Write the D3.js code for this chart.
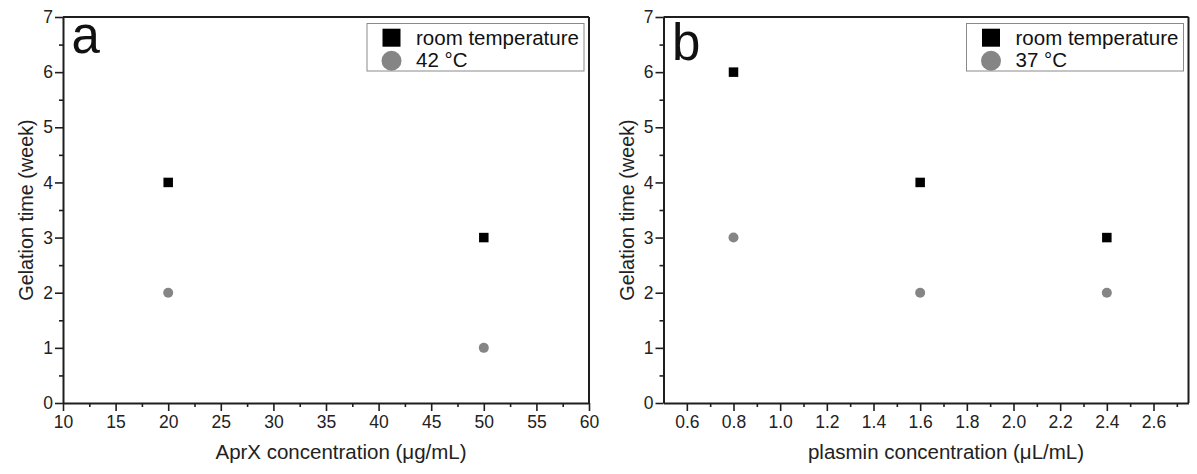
<!DOCTYPE html>
<html>
<head>
<meta charset="utf-8">
<script src="https://cdn.jsdelivr.net/npm/d3@7"></script>
<style>
  html, body { margin: 0; padding: 0; background: #fff; }
  svg { display: block; font-family: "Liberation Sans", Arial, sans-serif; }
</style>
</head>
<body>
<svg id="chart" width="1197" height="474"></svg>
<script>
// ---- Data ----
const aprxConc = [20, 50];
const aprxRoom = [4, 3];
const aprx42 = [2, 1];

const plasminConc = [0.8, 1.6, 2.4];
const plasminRoom = [6, 4, 3];
const plasmin37 = [3, 2, 2];

const xTicksA = [10, 15, 20, 25, 30, 35, 40, 45, 50, 55, 60];
const xMinorA = [12.5, 17.5, 22.5, 27.5, 32.5, 37.5, 42.5, 47.5, 52.5, 57.5];
const xTicksB = [0.6, 0.8, 1.0, 1.2, 1.4, 1.6, 1.8, 2.0, 2.2, 2.4, 2.6];
const xMinorB = [0.7, 0.9, 1.1, 1.3, 1.5, 1.7, 1.9, 2.1, 2.3, 2.5, 2.7];
const yTicks = [0, 1, 2, 3, 4, 5, 6, 7];
const yMinor = [0.5, 1.5, 2.5, 3.5, 4.5, 5.5, 6.5];

const yLabel = "Gelation time (week)";
const legendRoom = "room temperature";

const panels = [
  { letter: "a", letterY: 53, left: 63, right: 589, xDomain: [10, 60], xTicks: xTicksA, xMinor: xMinorA,
    fmt: d3.format("d"), x: aprxConc, room: aprxRoom, hot: aprx42, hotLabel: "42 \u00B0C",
    xTitle: "AprX concentration (\u03BCg/mL)", xTitleX: 341 },
  { letter: "b", letterY: 60, left: 663.5, right: 1188.5, xDomain: [0.5, 2.75], xTicks: xTicksB, xMinor: xMinorB,
    fmt: d3.format(".1f"), x: plasminConc, room: plasminRoom, hot: plasmin37, hotLabel: "37 \u00B0C",
    xTitle: "plasmin concentration (\u03BCL/mL)", xTitleX: 946 }
];

const plotTop = 17, plotBottom = 403;
const axisColor = "#1e1e1e";
const gray = "#858585";
const svg = d3.select("#chart");

panels.forEach(p => {
  const x = d3.scaleLinear().domain(p.xDomain).range([p.left, p.right]);
  const y = d3.scaleLinear().domain([0, 7]).range([plotBottom, plotTop]);
  const g = svg.append("g");

  g.append("line").attr("x1", p.left).attr("x2", p.right).attr("y1", y(7)).attr("y2", y(7))
    .attr("stroke", axisColor).attr("stroke-width", 2);
  g.append("line").attr("x1", p.right).attr("x2", p.right).attr("y1", y(7)).attr("y2", y(0))
    .attr("stroke", axisColor).attr("stroke-width", 2);

  const xa = g.append("g").attr("transform", `translate(0,${plotBottom})`)
    .call(d3.axisBottom(x).tickValues(p.xTicks).tickFormat(p.fmt).tickSize(8).tickPadding(5).tickSizeOuter(0));
  const xm = g.append("g").attr("transform", `translate(0,${plotBottom})`)
    .call(d3.axisBottom(x).tickValues(p.xMinor).tickFormat("").tickSize(4).tickSizeOuter(0));
  xm.select(".domain").remove();

  const ya = g.append("g").attr("transform", `translate(${p.left},0)`)
    .call(d3.axisLeft(y).tickValues(yTicks).tickFormat(d3.format("d")).tickSize(8).tickPadding(2).tickSizeOuter(0));
  const ym = g.append("g").attr("transform", `translate(${p.left},0)`)
    .call(d3.axisLeft(y).tickValues(yMinor).tickFormat("").tickSize(4).tickSizeOuter(0));
  ym.select(".domain").remove();

  [xa, xm, ya, ym].forEach(a => {
    a.selectAll(".domain").attr("stroke", axisColor).attr("stroke-width", 2);
    a.selectAll(".tick line").attr("stroke", axisColor).attr("stroke-width", 1.6);
    a.selectAll(".tick text").attr("fill", "#222").style("font-size", "17.5px")
      .style("font-family", "'Liberation Sans', Arial, sans-serif");
  });

  g.append("text").attr("x", p.xTitleX).attr("y", 458.5).attr("text-anchor", "middle")
    .attr("fill", "#222").style("font-size", "20.5px").text(p.xTitle);
  g.append("text").attr("transform", `translate(${p.left - 30},${(plotTop + plotBottom) / 2}) rotate(-90)`)
    .attr("text-anchor", "middle").attr("fill", "#222").style("font-size", "19.8px").text(yLabel);

  g.append("text").attr("x", p.left + 8.5).attr("y", p.letterY).attr("fill", "#111")
    .style("font-size", "51px").text(p.letter);

  const sq = 9.5;
  g.selectAll(".room").data(p.x.map((v, i) => [v, p.room[i]])).enter().append("rect")
    .attr("x", d => x(d[0]) - sq / 2).attr("y", d => y(d[1]) - sq / 2)
    .attr("width", sq).attr("height", sq).attr("fill", "#000");
  g.selectAll(".hot").data(p.x.map((v, i) => [v, p.hot[i]])).enter().append("circle")
    .attr("cx", d => x(d[0])).attr("cy", d => y(d[1])).attr("r", 5).attr("fill", gray);

  const lw = 217, lh = 47.5;
  const lx = p.right - 5 - lw, ly = 23.5;
  const leg = g.append("g");
  leg.append("rect").attr("x", lx).attr("y", ly).attr("width", lw).attr("height", lh)
    .attr("fill", "#fff").attr("stroke", "#8a8a8a").attr("stroke-width", 1);
  leg.append("rect").attr("x", lx + 24.5 - 9).attr("y", 37.7 - 9).attr("width", 18).attr("height", 18).attr("fill", "#000");
  leg.append("circle").attr("cx", lx + 24.5).attr("cy", 60.8).attr("r", 10).attr("fill", gray);
  leg.append("text").attr("x", lx + 49).attr("y", 44.5).attr("fill", "#111").style("font-size", "20.5px").text(legendRoom);
  leg.append("text").attr("x", lx + 49).attr("y", 66.5).attr("fill", "#111").style("font-size", "20.5px").text(p.hotLabel);
});
</script>
</body>
</html>
